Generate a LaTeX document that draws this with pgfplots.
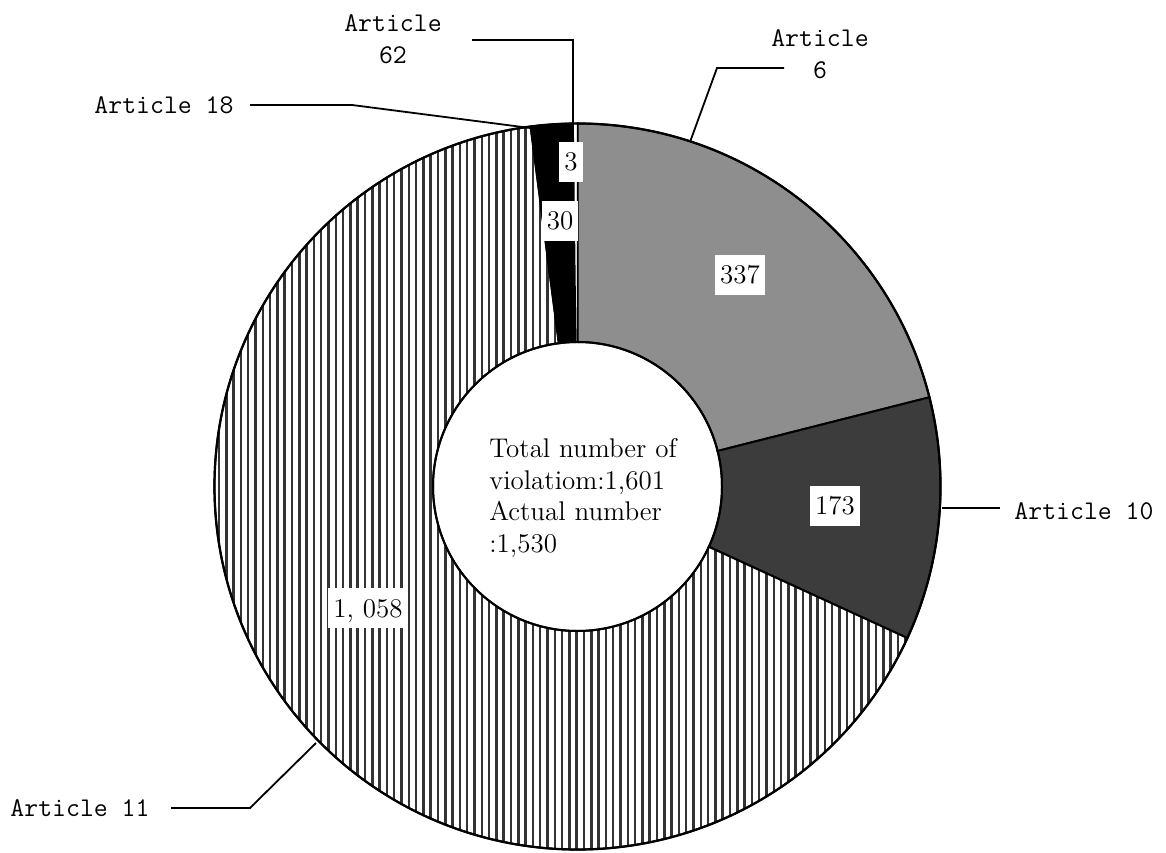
\documentclass[border=0pt]{standalone}
\usepackage{fontspec}
\usepackage{pgfplots}
\pgfplotsset{compat=1.18}
\usepackage{pgfplotstable}
\usetikzlibrary{patterns.meta}

\pgfplotstableread{
article value
6 337
10 173
11 1058
18 30
62 3
}\donutdata

\definecolor{artsix}{HTML}{8E8E8E}
\definecolor{artten}{HTML}{3C3C3C}

\newcommand{\Ro}{181.5pt}
\newcommand{\Ri}{72.25pt}
\newcommand{\cx}{577.5}
\newcommand{\cy}{365.5}
\newcommand{\ringsector}[3]{%
  \path[#1] ([shift={(#2:\Ro)}]axis cs:\cx,\cy) arc[start angle=#2, end angle=#3, radius=\Ro]
    -- ([shift={(#3:\Ri)}]axis cs:\cx,\cy) arc[start angle=#3, end angle=#2, radius=\Ri] -- cycle;}

\begin{document}
\begin{tikzpicture}
\pgfplotstablegetelem{0}{value}\of\donutdata \edef\vA{\pgfplotsretval}
\pgfplotstablegetelem{1}{value}\of\donutdata \edef\vB{\pgfplotsretval}
\pgfplotstablegetelem{2}{value}\of\donutdata \edef\vC{\pgfplotsretval}
\pgfplotstablegetelem{3}{value}\of\donutdata \edef\vD{\pgfplotsretval}
\pgfplotstablegetelem{4}{value}\of\donutdata \edef\vE{\pgfplotsretval}
\pgfmathsetmacro{\tot}{\vA+\vB+\vC+\vD+\vE}
\pgfmathsetmacro{\aA}{90}
\pgfmathsetmacro{\aB}{90-\vA/\tot*360}
\pgfmathsetmacro{\aC}{90-(\vA+\vB)/\tot*360}
\pgfmathsetmacro{\aD}{90-(\vA+\vB+\vC)/\tot*360}
\pgfmathsetmacro{\aE}{90-(\vA+\vB+\vC+\vD)/\tot*360}
\pgfmathsetmacro{\aF}{-270}
\begin{axis}[hide axis, scale only axis, width=583pt, height=426pt,
  xmin=0, xmax=1166, ymin=0, ymax=852, clip=false, at={(0,0)}, anchor=south west]
% sectors
\ringsector{fill=artsix, draw=black, line width=1pt}{\aA}{\aB}
\ringsector{fill=artten, draw=black, line width=1pt}{\aB}{\aC}
\ringsector{fill=white, draw=none}{\aC}{\aD}
\ringsector{pattern={Lines[angle=90, distance=3.65pt, line width=1.25pt]}, pattern color=black!80, draw=black, line width=1pt}{\aC}{\aD}
\ringsector{fill=black, draw=black, line width=1pt}{\aD}{\aE}
\ringsector{fill=white, draw=black, line width=0.6pt}{\aE}{\aF}
\draw[line width=1.1pt] (axis cs:\cx,\cy) circle[radius=\Ro];
\draw[line width=1pt] (axis cs:\cx,\cy) circle[radius=\Ri];
% leader lines
\addplot[black, line width=0.9pt, no marks] coordinates {(573,727) (573,812) (472,812)};
\addplot[black, line width=0.9pt, no marks] coordinates {(690,710) (717,784) (784,784)};
\addplot[black, line width=0.9pt, no marks] coordinates {(942,344) (1000,344)};
\addplot[black, line width=0.9pt, no marks] coordinates {(316,109) (250,44) (171,44)};
\addplot[black, line width=0.9pt, no marks] coordinates {(530,724) (352,747) (250,747)};
% category labels
\begin{scope}[every node/.style={font=\ttfamily\fontsize{13.5}{16}\selectfont, align=center}]
\node at (axis cs:393,813) {Article\\62};
\node at (axis cs:820,798) {Article\\6};
\node at (axis cs:1084,341) {Article 10};
\node at (axis cs:80,44) {Article 11};
\node at (axis cs:164,747) {Article 18};
\end{scope}
% value labels
\begin{scope}[every node/.style={font=\fontsize{13.5}{16}\selectfont, fill=white, text height=9pt, text depth=0pt, inner xsep=2.5pt, inner ysep=5.5pt}]
\node at (axis cs:740,577) {337};
\node at (axis cs:835,346) {173};
\node at (axis cs:571,690) {3};
\node at (axis cs:560,631) {30};
\node at (axis cs:368,244) {1, 058};
\end{scope}
\node[font=\fontsize{13.5}{15.75}\selectfont, align=left] at (axis cs:583,354) {Total number of\\violatiom:1,601\\Actual number\\:1,530};
\end{axis}
\pgfresetboundingbox
\path (0,0) rectangle (583pt,426pt);
\end{tikzpicture}
\end{document}
